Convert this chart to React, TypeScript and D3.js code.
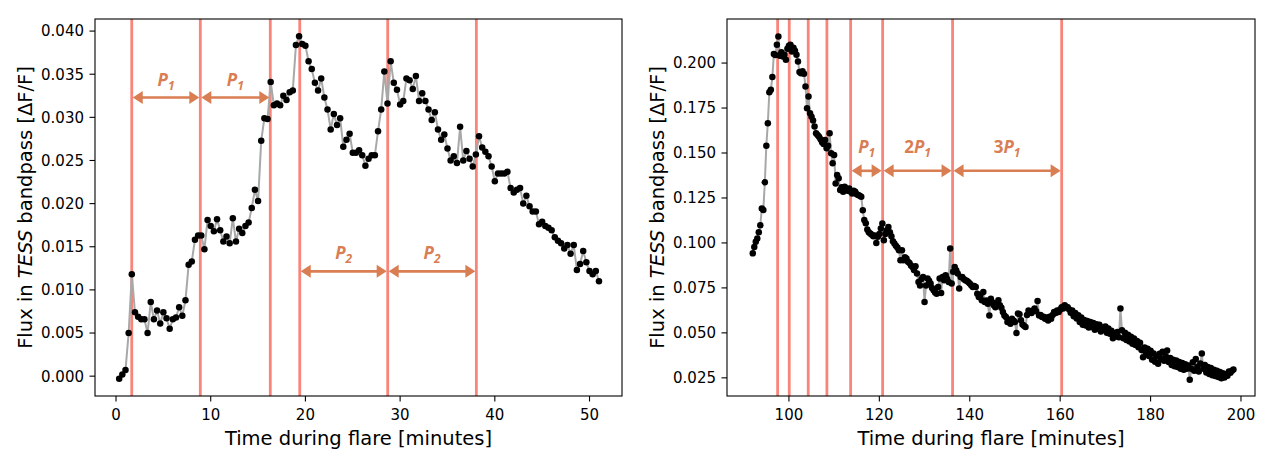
import React from 'react';
import * as d3 from 'd3';

// TESS 20 s cadence, in minutes
const cadence = 1 / 3;

const leftStart = 1 / 3;
const leftFlux = [
  -0.0003, 0.0002, 0.0007, 0.0050, 0.0118, 0.0074, 0.0069, 0.0066, 0.0066, 0.0050,
  0.0086, 0.0066, 0.0076, 0.0061, 0.0074, 0.0067, 0.0055, 0.0066, 0.0068, 0.0080,
  0.0070, 0.0088, 0.0129, 0.0133, 0.0158, 0.0163, 0.0163, 0.0147, 0.0181, 0.0174,
  0.0168, 0.0182, 0.0169, 0.0156, 0.0162, 0.0154, 0.0183, 0.0156, 0.0171, 0.0166,
  0.0174, 0.0178, 0.0195, 0.0216, 0.0203, 0.0273, 0.0299, 0.0298, 0.0341, 0.0314,
  0.0316, 0.0314, 0.0325, 0.0320, 0.0329, 0.0331, 0.0384, 0.0394, 0.0385, 0.0383,
  0.0365, 0.0356, 0.0340, 0.0331, 0.0345, 0.0323, 0.0309, 0.0286, 0.0304, 0.0291,
  0.0299, 0.0266, 0.0274, 0.0281, 0.0259, 0.0259, 0.0262, 0.0256, 0.0244, 0.0252,
  0.0256, 0.0256, 0.0284, 0.0309, 0.0353, 0.0316, 0.0365, 0.0340, 0.0332, 0.0315,
  0.0319, 0.0345, 0.0343, 0.0333, 0.0348, 0.0319, 0.0328, 0.0319, 0.0309, 0.0297,
  0.0306, 0.0286, 0.0274, 0.0280, 0.0264, 0.0250, 0.0255, 0.0247, 0.0289, 0.0250,
  0.0261, 0.0252, 0.0243, 0.0257, 0.0278, 0.0265, 0.0260, 0.0255, 0.0243, 0.0226,
  0.0235, 0.0235, 0.0235, 0.0237, 0.0218, 0.0213, 0.0216, 0.0218, 0.0200, 0.0209,
  0.0197, 0.0191, 0.0191, 0.0176, 0.0179, 0.0174, 0.0172, 0.0169, 0.0161, 0.0157,
  0.0154, 0.0148, 0.0152, 0.0142, 0.0152, 0.0123, 0.0130, 0.0145, 0.0132, 0.0122,
  0.0118, 0.0122, 0.0110,
];

const rightStart = 92;
const rightFlux = [
  0.0942, 0.0978, 0.1006, 0.1025, 0.1060, 0.1099, 0.1192, 0.1183, 0.1337, 0.1541,
  0.1666, 0.1838, 0.1851, 0.1922, 0.2050, 0.2045, 0.2102, 0.2148, 0.2041, 0.2060,
  0.2037, 0.2046, 0.2018, 0.2080, 0.2096, 0.2102, 0.2065, 0.2085, 0.2069, 0.2046,
  0.2009, 0.1950, 0.1944, 0.1955, 0.1940, 0.1870, 0.1749, 0.1814, 0.1721, 0.1702,
  0.1680, 0.1647, 0.1610, 0.1600, 0.1591, 0.1576, 0.1560, 0.1550, 0.1572, 0.1526,
  0.1540, 0.1610, 0.1498, 0.1443, 0.1489, 0.1331, 0.1377, 0.1359, 0.1294, 0.1310,
  0.1284, 0.1312, 0.1303, 0.1290, 0.1303, 0.1285, 0.1275, 0.1290, 0.1284, 0.1270,
  0.1266, 0.1262, 0.1257, 0.1182, 0.1127, 0.1110, 0.1075, 0.1060, 0.1053, 0.1045,
  0.1037, 0.1042, 0.1000, 0.1034, 0.1050, 0.1080, 0.1108, 0.1015, 0.1050, 0.1071,
  0.1089, 0.1060, 0.1037, 0.1010, 0.0997, 0.0985, 0.0974, 0.0960, 0.0904, 0.0960,
  0.0904, 0.0920, 0.0913, 0.0895, 0.0889, 0.0875, 0.0866, 0.0850, 0.0870, 0.0830,
  0.0783, 0.0764, 0.0800, 0.0811, 0.0671, 0.0764, 0.0802, 0.0790, 0.0774, 0.0750,
  0.0737, 0.0725, 0.0718, 0.0755, 0.0802, 0.0722, 0.0811, 0.0792, 0.0820, 0.0800,
  0.0783, 0.0969, 0.0774, 0.0840, 0.0866, 0.0848, 0.0830, 0.0746, 0.0811, 0.0811,
  0.0800, 0.0792, 0.0790, 0.0783, 0.0774, 0.0765, 0.0755, 0.0760, 0.0755, 0.0718,
  0.0699, 0.0710, 0.0681, 0.0727, 0.0671, 0.0680, 0.0662, 0.0597, 0.0690, 0.0670,
  0.0653, 0.0643, 0.0660, 0.0681, 0.0653, 0.0640, 0.0616, 0.0597, 0.0588, 0.0560,
  0.0569, 0.0551, 0.0579, 0.0569, 0.0560, 0.0499, 0.0607, 0.0603, 0.0570, 0.0547,
  0.0540, 0.0532, 0.0600, 0.0625, 0.0615, 0.0610, 0.0625, 0.0635, 0.0620, 0.0677,
  0.0597, 0.0600, 0.0588, 0.0590, 0.0579, 0.0585, 0.0569, 0.0590, 0.0579, 0.0600,
  0.0616, 0.0610, 0.0625, 0.0616, 0.0630, 0.0643, 0.0635, 0.0653, 0.0645, 0.0643,
  0.0630, 0.0612, 0.0625, 0.0592, 0.0610, 0.0580, 0.0598, 0.0560, 0.0585, 0.0545,
  0.0572, 0.0541, 0.0566, 0.0530, 0.0560, 0.0532, 0.0555, 0.0518, 0.0548, 0.0523,
  0.0545, 0.0508, 0.0530, 0.0517, 0.0535, 0.0500, 0.0524, 0.0495, 0.0512, 0.0470,
  0.0498, 0.0480, 0.0505, 0.0476, 0.0635, 0.0514, 0.0470, 0.0500, 0.0460, 0.0490,
  0.0452, 0.0478, 0.0440, 0.0468, 0.0432, 0.0455, 0.0420, 0.0445, 0.0405, 0.0365,
  0.0418, 0.0385, 0.0412, 0.0372, 0.0400, 0.0350, 0.0385, 0.0340, 0.0372, 0.0328,
  0.0384, 0.0355, 0.0395, 0.0345, 0.0370, 0.0402, 0.0338, 0.0360, 0.0322, 0.0350,
  0.0315, 0.0346, 0.0310, 0.0338, 0.0300, 0.0332, 0.0295, 0.0325, 0.0300, 0.0318,
  0.0239, 0.0300, 0.0337, 0.0290, 0.0355, 0.0310, 0.0285, 0.0330, 0.0385, 0.0300,
  0.0322, 0.0280, 0.0310, 0.0272, 0.0305, 0.0265, 0.0295, 0.0260, 0.0290, 0.0255,
  0.0282, 0.0248, 0.0275, 0.0252, 0.0270, 0.0262, 0.0285, 0.0278, 0.0290, 0.0296,
];

// vertical markers (minutes)
const leftLines = [1.66, 8.9, 16.29, 19.4, 28.69, 38.05];
const rightLines = [97.5, 100.07, 104.27, 108.4, 113.65, 120.73, 136.2, 160.33];

// period arrows: from, to, height (flux), prefix before P, subscript
const leftArrows = [
  { from: 1.66, to: 8.9, y: 0.0323, pre: '', sub: '1' },
  { from: 8.9, to: 16.29, y: 0.0323, pre: '', sub: '1' },
  { from: 19.4, to: 28.69, y: 0.01215, pre: '', sub: '2' },
  { from: 28.69, to: 38.05, y: 0.01215, pre: '', sub: '2' },
];
const rightArrows = [
  { from: 113.65, to: 120.73, y: 0.1401, pre: '', sub: '1' },
  { from: 120.73, to: 136.2, y: 0.1401, pre: '2', sub: '1' },
  { from: 136.2, to: 160.33, y: 0.1401, pre: '3', sub: '1' },
];

const leftXTicks = [0, 10, 20, 30, 40, 50];
const leftYTicks = [0, 0.005, 0.01, 0.015, 0.02, 0.025, 0.03, 0.035, 0.04];
const rightXTicks = [100, 120, 140, 160, 180, 200];
const rightYTicks = [0.025, 0.05, 0.075, 0.1, 0.125, 0.15, 0.175, 0.2];

const FONT = 'DejaVu Sans, sans-serif';
const ARROW = '#D97D52';
const MARK = '#F7857A';

type Arrow = { from: number; to: number; y: number; pre: string; sub: string };

interface PanelProps {
  frame: { left: number; right: number; top: number; bottom: number };
  xDomain: [number, number];
  yDomain: [number, number];
  start: number;
  flux: number[];
  lines: number[];
  arrows: Arrow[];
  xTicks: number[];
  yTicks: number[];
  labelLift: number;
}

const Panel: React.FC<PanelProps> = ({ frame, xDomain, yDomain, start, flux, lines, arrows, xTicks, yTicks, labelLift }) => {
  const x = d3.scaleLinear().domain(xDomain).range([frame.left, frame.right]);
  const y = d3.scaleLinear().domain(yDomain).range([frame.bottom, frame.top]);
  const pts = flux.map((v, i) => [start + i * cadence, v] as [number, number]);
  const line = d3.line<[number, number]>().x(d => x(d[0])).y(d => y(d[1]));
  const fmt = d3.format('.3f');
  const cx = (frame.left + frame.right) / 2;
  const cy = (frame.top + frame.bottom) / 2;

  return (
    <g>
      {lines.map((t, i) => (
        <line key={i} x1={x(t)} x2={x(t)} y1={frame.top} y2={frame.bottom} stroke={MARK} strokeWidth={2.8} />
      ))}
      <path d={line(pts) || ''} fill="none" stroke="#a8a8a8" strokeWidth={2} />
      {pts.map((d, i) => (
        <circle key={i} cx={x(d[0])} cy={y(d[1])} r={3.25} fill="black" />
      ))}

      {arrows.map((a, i) => {
        const x1 = x(a.from) + 1;
        const x2 = x(a.to) - 1;
        const yy = y(a.y);
        const hl = 10;
        const hw = 6.5;
        return (
          <g key={i}>
            <line x1={x1 + hl - 1} x2={x2 - hl + 1} y1={yy} y2={yy} stroke={ARROW} strokeWidth={2.6} />
            <polygon points={`${x1},${yy} ${x1 + hl},${yy - hw} ${x1 + hl},${yy + hw}`} fill={ARROW} />
            <polygon points={`${x2},${yy} ${x2 - hl},${yy - hw} ${x2 - hl},${yy + hw}`} fill={ARROW} />
            <text
              x={(x1 + x2) / 2}
              y={yy - labelLift}
              textAnchor="middle"
              fill={ARROW}
              fontFamily="Open Sans, sans-serif"
              fontWeight="bold"
              fontSize={17}
            >
              {a.pre && <tspan>{a.pre}</tspan>}
              <tspan fontStyle="italic">P</tspan>
              <tspan fontStyle="italic" fontSize={12} dy={4}>{a.sub}</tspan>
            </text>
          </g>
        );
      })}

      <rect x={frame.left} y={frame.top} width={frame.right - frame.left} height={frame.bottom - frame.top}
        fill="none" stroke="black" strokeWidth={1.1} />

      {xTicks.map(t => (
        <g key={t}>
          <line x1={x(t)} x2={x(t)} y1={frame.bottom} y2={frame.bottom + 5.5} stroke="black" strokeWidth={1.1} />
          <text x={x(t)} y={frame.bottom + 24} textAnchor="middle" fontFamily={FONT} fontSize={15}>{t}</text>
        </g>
      ))}
      {yTicks.map(t => (
        <g key={t}>
          <line x1={frame.left - 5.5} x2={frame.left} y1={y(t)} y2={y(t)} stroke="black" strokeWidth={1.1} />
          <text x={frame.left - 11} y={y(t)} dy="0.36em" textAnchor="end" fontFamily={FONT} fontSize={15}>{fmt(t)}</text>
        </g>
      ))}

      <text x={cx} y={445} textAnchor="middle" fontFamily={FONT} fontSize={19.5}>Time during flare [minutes]</text>
      <text transform={`translate(${frame.left - 70}, ${cy}) rotate(-90)`} dy="0.36em" textAnchor="middle"
        fontFamily={FONT} fontSize={19.5}>
        Flux in <tspan fontStyle="italic">TESS</tspan> bandpass [ΔF/F]
      </text>
    </g>
  );
};

const App: React.FC = () => (
  <svg width={1274} height={470} style={{ position: 'absolute', left: 0, top: 0, background: 'white' }}>
    <Panel
      frame={{ left: 95, right: 622, top: 19, bottom: 396 }}
      xDomain={[-2.22, 53.43]}
      yDomain={[-0.0023, 0.0414]}
      start={leftStart}
      flux={leftFlux}
      lines={leftLines}
      arrows={leftArrows}
      xTicks={leftXTicks}
      yTicks={leftYTicks}
      labelLift={12}
    />
    <Panel
      frame={{ left: 727, right: 1255, top: 19, bottom: 396 }}
      xDomain={[86.3, 203.1]}
      yDomain={[0.0149, 0.2245]}
      start={rightStart}
      flux={rightFlux}
      lines={rightLines}
      arrows={rightArrows}
      xTicks={rightXTicks}
      yTicks={rightYTicks}
      labelLift={18}
    />
  </svg>
);

export default App;
